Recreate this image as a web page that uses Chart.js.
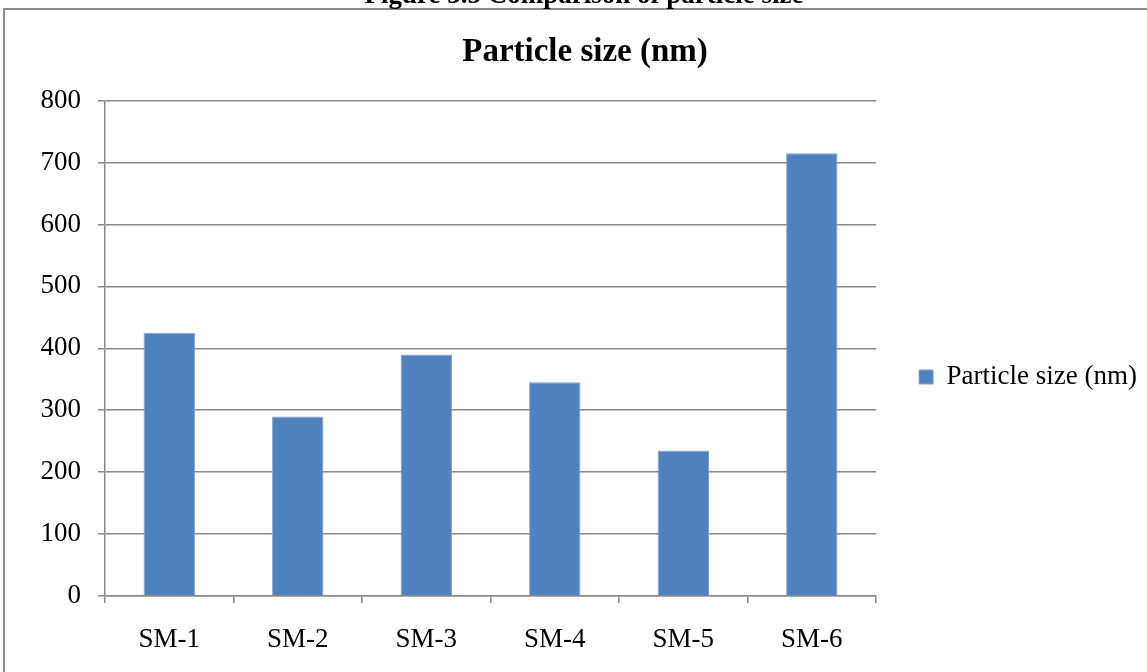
<!DOCTYPE html>
<html>
<head>
<meta charset="utf-8">
<script src="https://cdn.jsdelivr.net/npm/chart.js@4/dist/chart.umd.min.js"></script>
<style>
  html, body { margin: 0; padding: 0; background: #fff; }
  #wrap { width: 1147px; height: 672px; position: relative; }
</style>
</head>
<body>
<div id="wrap"><canvas id="sizeChart"></canvas></div>
<script>
const categories = ['SM-1', 'SM-2', 'SM-3', 'SM-4', 'SM-5', 'SM-6'];
const particleSize = [425, 290, 390, 345, 235, 715];
const seriesName = 'Particle size (nm)';
const yTicks = [0, 100, 200, 300, 400, 500, 600, 700, 800];

const SERIF = "'Liberation Serif', 'Times New Roman', serif";
const GRID = '#8a8a8a';

// page frame and the clipped figure caption above it
const framePlugin = {
  id: 'frame',
  beforeDraw(chart) {
    const ctx = chart.ctx;
    ctx.save();
    ctx.fillStyle = '#fff';
    ctx.fillRect(0, 0, chart.width, chart.height);
    ctx.strokeStyle = '#8c8c8c';
    ctx.lineWidth = 2;
    ctx.beginPath();
    ctx.moveTo(4, chart.height + 2);
    ctx.lineTo(4, 9);
    ctx.lineTo(chart.width + 2, 9);
    ctx.stroke();
    ctx.fillStyle = '#000';
    ctx.font = "bold 27px " + SERIF;
    ctx.textAlign = 'center';
    ctx.textBaseline = 'alphabetic';
    ctx.fillText('Figure 3.5 Comparison of particle size', 584, 3);
    ctx.restore();
  }
};

const ctx = document.getElementById('sizeChart').getContext('2d');
new Chart(ctx, {
  type: 'bar',
  data: {
    labels: categories,
    datasets: [{
      label: seriesName,
      data: particleSize,
      backgroundColor: '#4f81bd',
      borderColor: '#7da2d2',
      borderWidth: 1,
      categoryPercentage: 1.0,
      barPercentage: 0.4
    }]
  },
  options: {
    responsive: true,
    maintainAspectRatio: false,
    animation: false,
    layout: { padding: { left: 23, right: 0, top: 0, bottom: 0 } },
    plugins: {
      tooltip: { enabled: false },
      title: {
        display: true,
        text: 'Particle size (nm)',
        color: '#000',
        font: { family: SERIF, size: 33, weight: 'bold', lineHeight: 1.2 },
        padding: { top: 33, bottom: 28 }
      },
      legend: {
        position: 'right',
        title: {
          display: true,
          text: ' ',
          font: { size: 10, lineHeight: 1 },
          padding: { top: 0, bottom: 72 }
        },
        labels: {
          color: '#000',
          font: { family: SERIF, size: 27 },
          boxWidth: 14,
          boxHeight: 14,
          padding: 43
        }
      }
    },
    scales: {
      x: {
        grid: { drawOnChartArea: false, drawTicks: true, tickLength: 7, color: GRID, lineWidth: 1.5 },
        border: { color: GRID, width: 1.5 },
        ticks: { color: '#000', font: { family: SERIF, size: 27 }, padding: 21, maxRotation: 0 },
        afterFit(scale) { scale.height = 76; }
      },
      y: {
        min: 0,
        max: 800,
        afterBuildTicks(scale) { scale.ticks = yTicks.map(v => ({ value: v })); },
        grid: { color: GRID, lineWidth: 1.5, tickLength: 7 },
        border: { color: GRID, width: 1.5 },
        ticks: { color: '#000', font: { family: SERIF, size: 27 }, padding: 17 },
        afterFit(scale) { scale.width = 82; }
      }
    }
  },
  plugins: [framePlugin]
});
</script>
</body>
</html>
